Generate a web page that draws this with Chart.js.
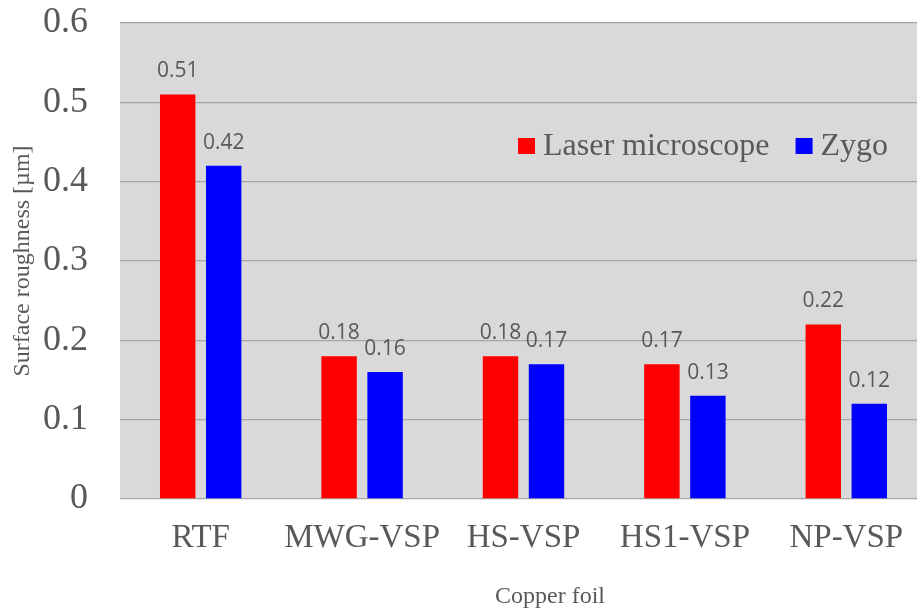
<!DOCTYPE html>
<html>
<head>
<meta charset="utf-8">
<script src="https://cdn.jsdelivr.net/npm/chart.js@4/dist/chart.umd.min.js"></script>
<style>
  html, body { margin: 0; padding: 0; background: #fff; overflow: hidden; }
  #roughnessChart { display: block; }
</style>
</head>
<body>
<canvas id="roughnessChart" width="927" height="615"></canvas>
<script>
// data
var foils = ['RTF', 'MWG-VSP', 'HS-VSP', 'HS1-VSP', 'NP-VSP'];
var laserValues = [0.51, 0.18, 0.18, 0.17, 0.22];
var zygoValues = [0.42, 0.16, 0.17, 0.13, 0.12];
var yTicks = [0, 0.1, 0.2, 0.3, 0.4, 0.5, 0.6];

var textColor = '#595959';
var serif = '"Liberation Serif", "Times New Roman", serif';

// grey background behind the bars
var plotBackground = {
    id: 'plotBackground',
    beforeDraw: function (chart) {
        var ctx = chart.ctx;
        var a = chart.chartArea;
        ctx.save();
        ctx.fillStyle = '#d9d9d9';
        ctx.fillRect(a.left, a.top, a.right - a.left, a.bottom - a.top);
        ctx.restore();
    }
};

// value written above each bar
var valueLabels = {
    id: 'valueLabels',
    afterDatasetsDraw: function (chart) {
        var ctx = chart.ctx;
        ctx.save();
        ctx.font = '21px "Open Sans", "Noto Sans", sans-serif';
        ctx.fillStyle = textColor;
        ctx.textAlign = 'center';
        ctx.textBaseline = 'alphabetic';
        chart.data.datasets.forEach(function (ds, i) {
            var meta = chart.getDatasetMeta(i);
            meta.data.forEach(function (bar, j) {
                ctx.fillText(ds.data[j].toFixed(2), bar.x, bar.y - 17);
            });
        });
        ctx.restore();
    }
};

// legend sits inside the plot, upper right
var innerLegend = {
    id: 'innerLegend',
    afterDraw: function (chart) {
        var ctx = chart.ctx;
        var x = 518;
        var y = 146;
        ctx.save();
        ctx.font = '32px ' + serif;
        ctx.textBaseline = 'middle';
        ctx.textAlign = 'left';
        chart.data.datasets.forEach(function (ds) {
            ctx.fillStyle = ds.backgroundColor;
            ctx.fillRect(x, y - 8, 17, 16);
            x += 25;
            ctx.fillStyle = textColor;
            ctx.fillText(ds.label, x, y + 1);
            x += ctx.measureText(ds.label).width + 26;
        });
        ctx.restore();
    }
};

// x axis title is a bit right of the plot centre
var xTitle = {
    id: 'xTitle',
    afterDraw: function (chart) {
        var ctx = chart.ctx;
        ctx.save();
        ctx.font = '24px ' + serif;
        ctx.fillStyle = textColor;
        ctx.textAlign = 'center';
        ctx.textBaseline = 'middle';
        ctx.fillText('Copper foil', 550, 597);
        ctx.restore();
    }
};

var ctx = document.getElementById('roughnessChart');
var roughnessChart = new Chart(ctx, {
    type: 'bar',
    data: {
        labels: foils,
        datasets: [
            { label: 'Laser microscope', data: laserValues, backgroundColor: '#ff0000' },
            { label: 'Zygo', data: zygoValues, backgroundColor: '#0000ff' }
        ]
    },
    options: {
        responsive: false,
        animation: false,
        devicePixelRatio: 1,
        layout: { padding: { top: 23, left: 0, right: 0, bottom: 0 } },
        datasets: {
            bar: { categoryPercentage: 0.57, barPercentage: 0.77 }
        },
        plugins: {
            legend: { display: false },
            tooltip: { enabled: false }
        },
        scales: {
            x: {
                grid: { display: false },
                border: { display: false },
                ticks: {
                    color: textColor,
                    font: { family: serif, size: 33 },
                    padding: 12,
                    maxRotation: 0
                },
                afterFit: function (scale) {
                    scale.height = 116;
                    scale.paddingLeft = 0;
                    scale.paddingRight = 0;
                }
            },
            y: {
                min: 0,
                max: 0.6,
                afterBuildTicks: function (scale) {
                    scale.ticks = yTicks.map(function (v) { return { value: v }; });
                },
                grid: { color: '#a6a6a6', lineWidth: 1.3, drawTicks: false },
                border: { display: false },
                ticks: {
                    color: textColor,
                    font: { family: serif, size: 36 },
                    padding: 32,
                    callback: function (v) { return v === 0 ? '0' : v.toFixed(1); }
                },
                title: {
                    display: true,
                    text: 'Surface roughness [µm]',
                    color: textColor,
                    font: { family: serif, size: 24 },
                    padding: { top: 8, bottom: 0 }
                },
                afterFit: function (scale) {
                    scale.width = 120;
                    scale.paddingTop = 0;
                    scale.paddingBottom = 0;
                }
            }
        }
    },
    plugins: [plotBackground, valueLabels, innerLegend, xTitle]
});
</script>
</body>
</html>
